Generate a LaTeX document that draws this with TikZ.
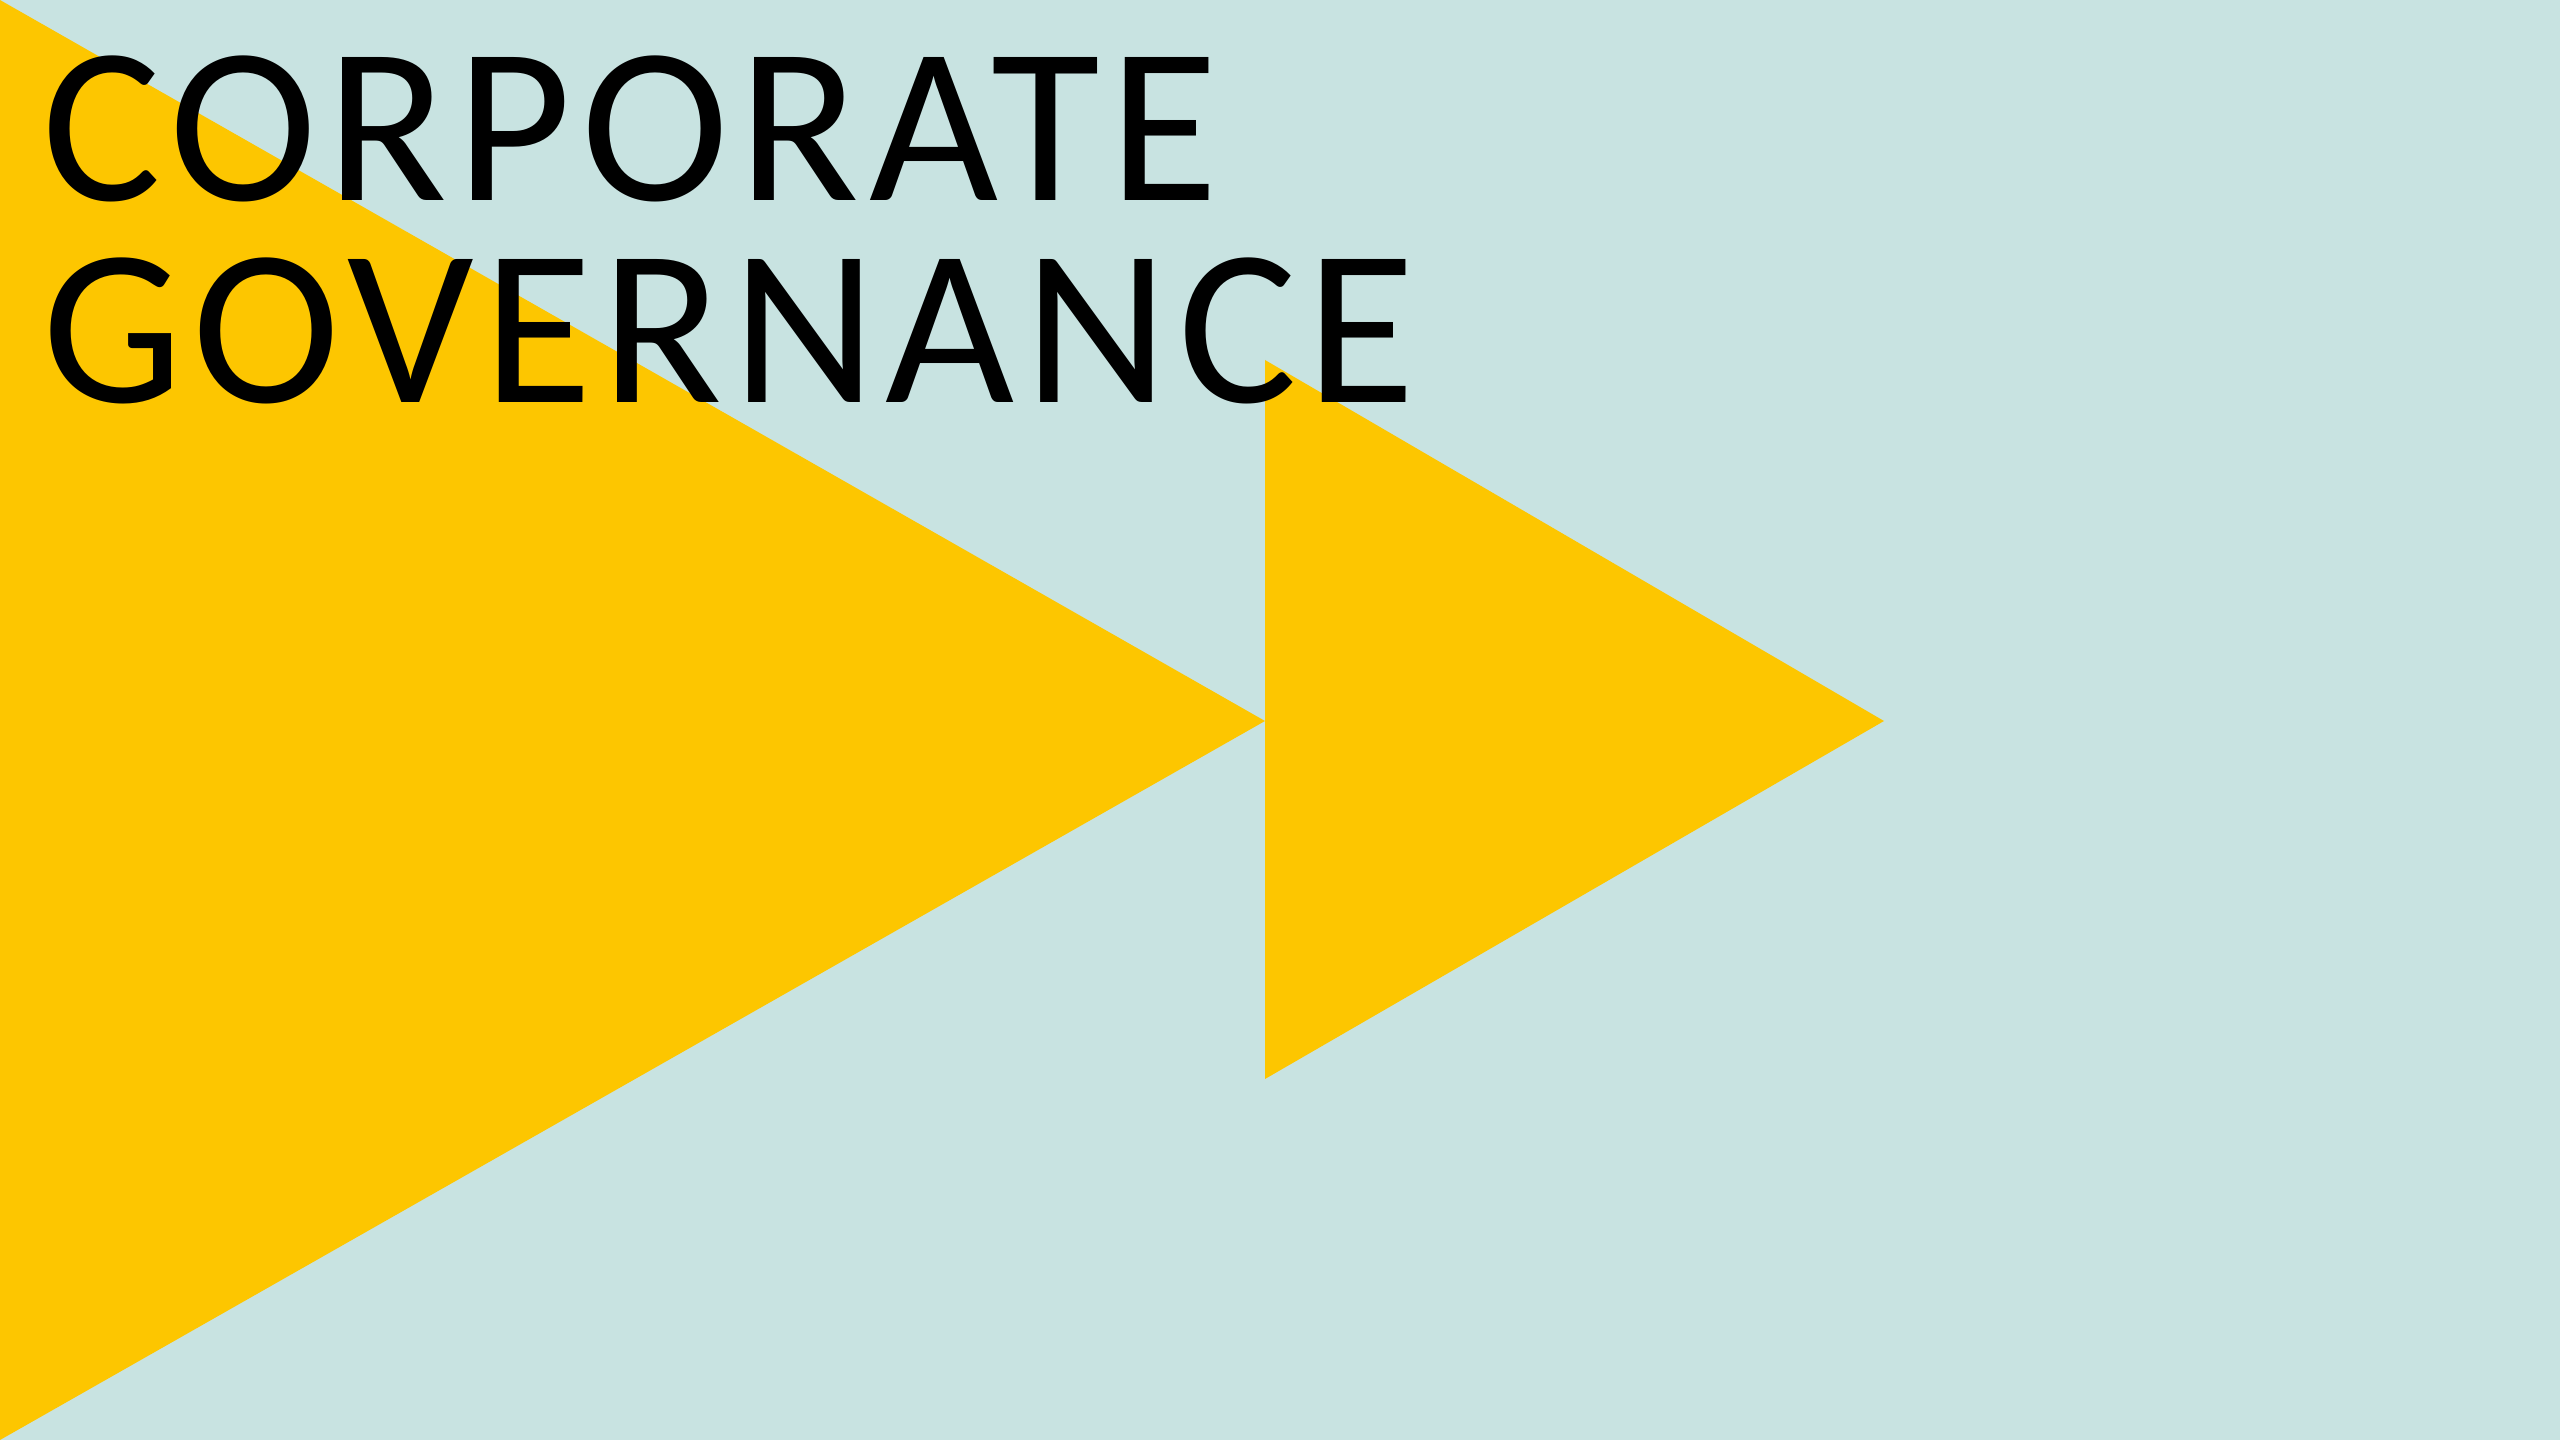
\documentclass[tikz,border=0pt]{standalone}
\usepackage{fontspec}
\setmainfont{Carlito}
\newfontfamily\titlefont[LetterSpace=4.3]{Carlito}
\definecolor{bgteal}{HTML}{C8E3E1}
\definecolor{tri}{HTML}{FDC600}
\begin{document}
\begin{tikzpicture}[x=0.01cm,y=-0.01cm,
  title/.style={anchor=base west,inner sep=0pt,font=\titlefont\fontsize{63.4}{57}\selectfont,text=black}]
\fill[bgteal] (0,0) rectangle (2560,1440);
\useasboundingbox (0,0) rectangle (2560,1440);
\fill[tri] (0,0) -- (1265,721) -- (0,1440) -- cycle;
\fill[tri] (1265,360) -- (1884,721) -- (1265,1079) -- cycle;
\node[title] (l1) at (42,201) {CORPORATE};
\node[title] (l2) at (42,403) {GOVERNANCE};
\end{tikzpicture}
\end{document}
